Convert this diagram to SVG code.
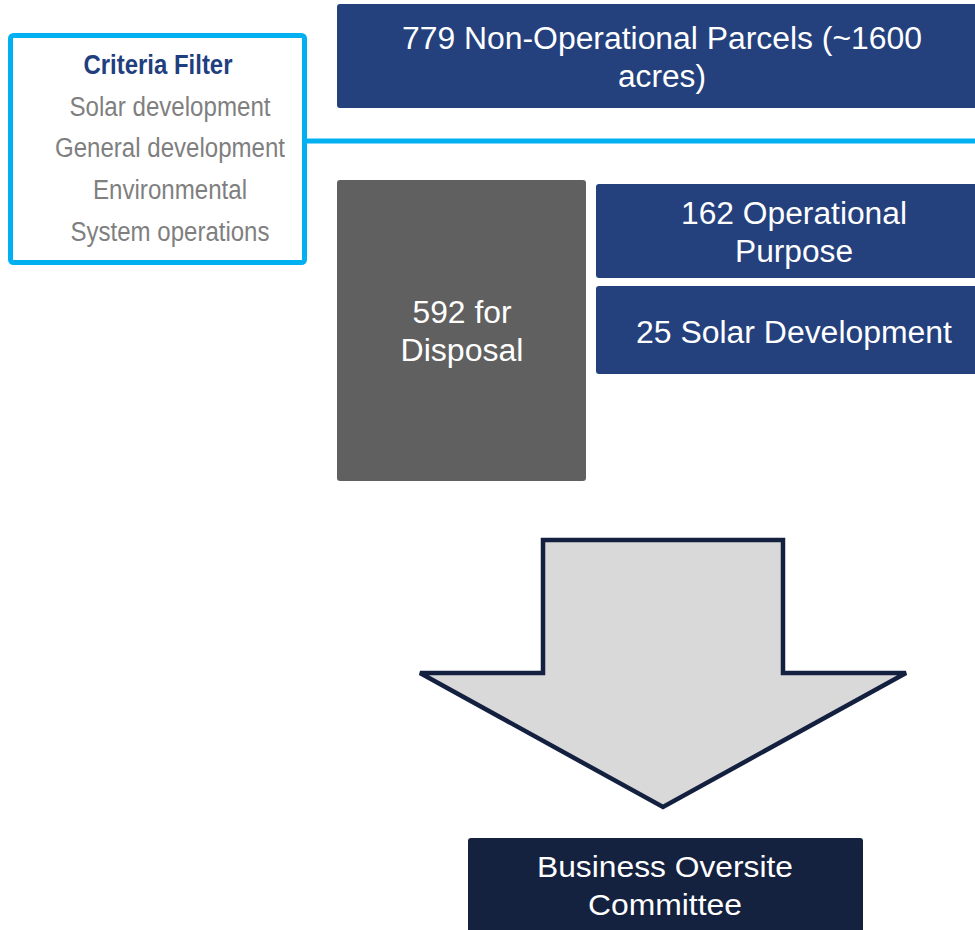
<svg xmlns="http://www.w3.org/2000/svg" width="975" height="930" viewBox="0 0 975 930">
<style>
.t{font-family:"Liberation Sans",Arial,sans-serif;fill:#fff;text-anchor:middle}
.blue{fill:#24417E}
.crit{font-family:"Liberation Sans",Arial,sans-serif;fill:#7F7F7F;text-anchor:middle;font-size:27px}
</style>
<rect width="975" height="930" fill="#fff"/>
<g id="connectors">
<line x1="305" y1="141" x2="975" y2="141" stroke="#00B0F0" stroke-width="5"/>
</g>
<g id="criteria">
<rect x="10.5" y="35.5" width="294" height="227" rx="3" fill="#fff" stroke="#00B0F0" stroke-width="5"/>
<text x="158" y="74" font-family="'Liberation Sans',Arial,sans-serif" font-weight="bold" font-size="27" fill="#1F3F7F" text-anchor="middle" textLength="149" lengthAdjust="spacingAndGlyphs">Criteria Filter</text>
<text class="crit" x="170" y="116" textLength="201" lengthAdjust="spacingAndGlyphs">Solar development</text>
<text class="crit" x="170" y="157" textLength="230" lengthAdjust="spacingAndGlyphs">General development</text>
<text class="crit" x="170" y="199" textLength="154" lengthAdjust="spacingAndGlyphs">Environmental</text>
<text class="crit" x="170" y="241" textLength="199" lengthAdjust="spacingAndGlyphs">System operations</text>
</g>
<g id="parcels">
<rect class="blue" x="337" y="4" width="645" height="104" rx="3"/>
<text class="t" x="662" y="49" font-size="31" textLength="520" lengthAdjust="spacingAndGlyphs">779 Non-Operational Parcels (~1600</text>
<text class="t" x="662" y="87" font-size="31" textLength="88" lengthAdjust="spacingAndGlyphs">acres)</text>
</g>
<g id="disposal">
<rect x="337" y="180" width="249" height="301" rx="3" fill="#606060"/>
<text class="t" x="462" y="323" font-size="31" textLength="99" lengthAdjust="spacingAndGlyphs">592 for</text>
<text class="t" x="462" y="361" font-size="31" textLength="123" lengthAdjust="spacingAndGlyphs">Disposal</text>
</g>
<g id="operational">
<rect class="blue" x="596" y="184" width="386" height="94" rx="3"/>
<text class="t" x="794" y="224" font-size="31" textLength="226" lengthAdjust="spacingAndGlyphs">162 Operational</text>
<text class="t" x="794" y="262" font-size="31" textLength="118" lengthAdjust="spacingAndGlyphs">Purpose</text>
</g>
<g id="solar">
<rect class="blue" x="596" y="286" width="386" height="88" rx="3"/>
<text class="t" x="794" y="343" font-size="31" textLength="316" lengthAdjust="spacingAndGlyphs">25 Solar Development</text>
</g>
<g id="arrow">
<polygon points="543,540 783,540 783,673 906,673 663,807 420,673 543,673" fill="#D9D9D9" stroke="#14203F" stroke-width="4.5" stroke-linejoin="miter"/>
</g>
<g id="committee">
<rect x="468" y="838" width="395" height="100" rx="3" fill="#14213F"/>
<text class="t" x="665" y="877" font-size="30" textLength="256" lengthAdjust="spacingAndGlyphs">Business Oversite</text>
<text class="t" x="665" y="915" font-size="30" textLength="154" lengthAdjust="spacingAndGlyphs">Committee</text>
</g>
</svg>
